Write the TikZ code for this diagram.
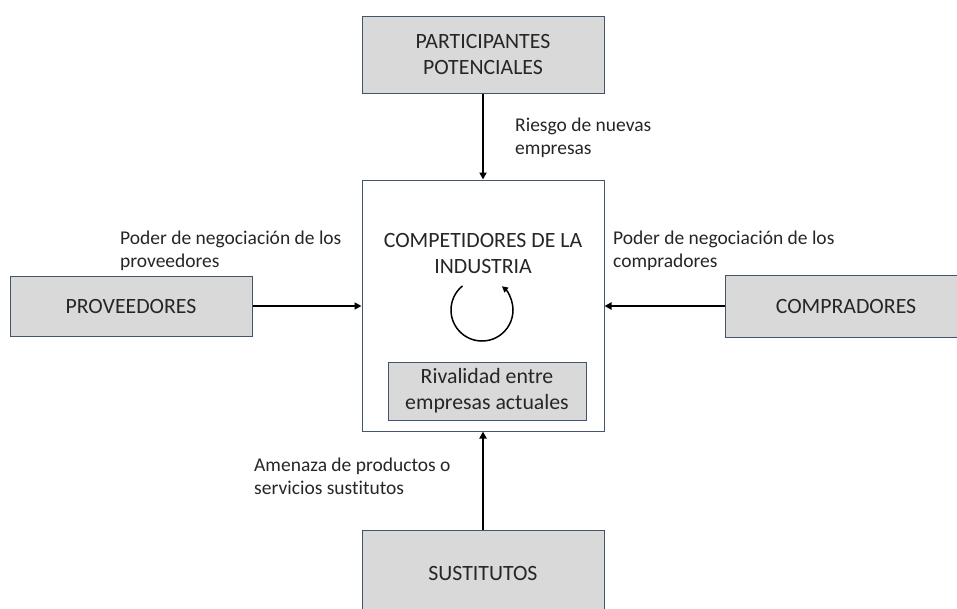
\documentclass[tikz,border=0pt]{standalone}
\usepackage{fontspec}
\setmainfont{Carlito}[Ligatures={NoCommon,NoRare,NoDiscretionary}]
\usetikzlibrary{arrows.meta}
\definecolor{boxborder}{RGB}{68,84,106}
\definecolor{boxfill}{RGB}{217,217,217}
\definecolor{txt}{RGB}{38,38,38}
\begin{document}
\begin{tikzpicture}[x=1pt,y=-1pt,
  graybox/.style={draw=boxborder,fill=boxfill,line width=1pt,inner sep=0pt,
    font=\fontsize{21.8}{26}\selectfont,text=txt,align=center},
  whitebox/.style={draw=boxborder,fill=white,line width=1pt,inner sep=0pt},
  lbl/.style={font=\fontsize{19.5}{23}\selectfont,text=txt,align=left,
    anchor=north west,inner sep=0pt},
  title/.style={font=\fontsize{21.8}{26}\selectfont,text=txt,align=center,inner sep=0pt},
  force/.style={line width=2pt,-{Triangle[length=7pt,width=7pt]}}]
\useasboundingbox (0,0) rectangle (957,608);
\fill[white] (0,0) rectangle (957,608);
\begin{scope}
\clip (0,0) rectangle (957,608);
\node[graybox,minimum width=242pt,minimum height=77pt] (pot) at (483,54.5) {PARTICIPANTES\\POTENCIALES};
\node[whitebox,minimum width=242pt,minimum height=251pt] (comp) at (483,305.5) {};
\node[title] (comptitle) at (483,254) {COMPETIDORES DE LA\\INDUSTRIA};
\node[graybox,minimum width=198pt,minimum height=58pt] (riv) at (487,391) {Rivalidad entre\\empresas actuales};
\node[graybox,minimum width=242pt,minimum height=60pt] (prov) at (131,306) {PROVEEDORES};
\node[graybox,minimum width=242pt,minimum height=62pt] (compr) at (846,306) {COMPRADORES};
\node[graybox,minimum width=242pt,minimum height=86pt] (sus) at (483,573) {SUSTITUTOS};
\end{scope}
\draw[force] (pot.south) -- (comp.north);
\draw[force] (prov.east) -- (prov.east -| comp.west);
\draw[force] (compr.west) -- (compr.west -| comp.east);
\draw[force] (sus.north) -- (comp.south);
\coordinate (circ) at (482,310);
\draw[line width=1.5pt,-{Triangle[length=6pt,width=6pt]}] (circ) ++(231:31) arc[start angle=231,end angle=-50,radius=31];
\node[lbl] (l1) at (515,117.5) {Riesgo de nuevas\\empresas};
\node[lbl] (l2) at (120,230.5) {Poder de negociación de los\\proveedores};
\node[lbl] (l3) at (613,230.5) {Poder de negociación de los\\compradores};
\node[lbl] (l4) at (254,457.5) {Amenaza de productos o\\servicios sustitutos};
\end{tikzpicture}
\end{document}
